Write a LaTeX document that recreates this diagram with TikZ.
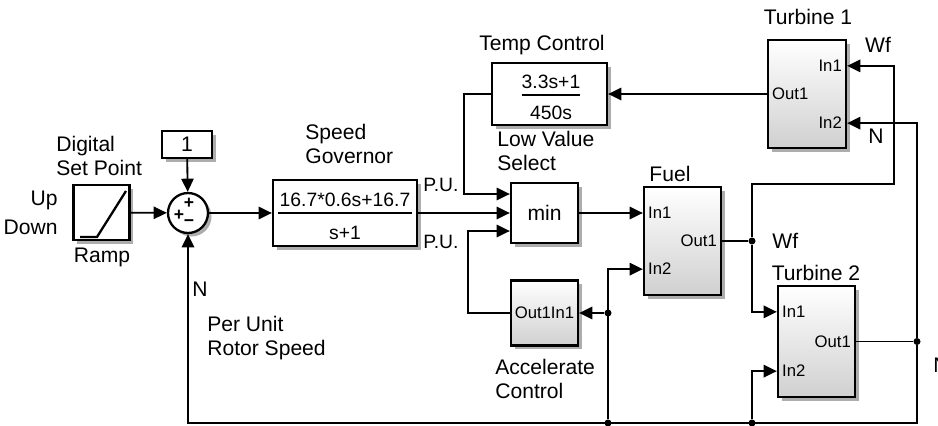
\documentclass[tikz,border=0pt]{standalone}
\usepackage{fontspec}
\setmainfont{Liberation Sans}
\usetikzlibrary{arrows.meta, positioning, shadows, calc}
\definecolor{ombre}{HTML}{8A8A8A}
\definecolor{degrade}{HTML}{D0D0D0}

\tikzset{
  bloc/.style={draw, line width=1.3pt, fill=white, inner sep=0pt,
    drop shadow={shadow xshift=2pt, shadow yshift=-2pt, fill=ombre, opacity=0.7}},
  sousbloc/.style={bloc, top color=white, bottom color=degrade},
  lien/.style={line width=1.05pt},
  fleche/.style={lien, -{Triangle[length=7.5pt, width=7pt]}},
  jonction/.style={circle, fill, inner sep=0pt, minimum size=4pt},
  libelle/.style={font=\fontsize{12}{13.6}\selectfont, align=left, inner sep=0pt},
  port/.style={font=\fontsize{9.5}{11}\selectfont, inner sep=0pt},
  gain/.style={font=\fontsize{11}{13}\selectfont, inner sep=0pt},
  signe/.style={font=\fontsize{10}{10}\bfseries, inner sep=0pt},
}

\begin{document}
\begin{tikzpicture}[x=0.02cm, y=-0.02cm]
    \useasboundingbox (0,0) rectangle (938,426);

    % Blocs
    \node[bloc, minimum width=1.12cm, minimum height=1.1cm] (ramp) at (101.5,212.5) {};
    \draw[line width=1.3pt] (80,237) -- (97,237) -- (126,191);
    \node[bloc, minimum width=1cm, minimum height=0.54cm, libelle] (const) at (187,144.5) {1};
    \node[bloc, circle, minimum size=0.8cm] (sum) at (188,213) {};
    \node[signe] at (189,203) {+};
    \node[signe] at (179,215) {+};
    \node[signe] at (189,223) {\textminus};
    \node[bloc, minimum width=2.88cm, minimum height=1.32cm] (gov) at (345,213) {};
    \node[gain] at (345,200) {16.7*0.6s+16.7};
    \draw[lien] (278,213) -- (412,213);
    \node[gain] at (345,233) {s+1};
    \node[bloc, minimum width=2.3cm, minimum height=1.24cm] (tempc) at (549.5,94) {};
    \node[gain] at (551,82) {3.3s+1};
    \draw[lien] (522,95) -- (580,95);
    \node[gain] at (551,113) {450s};
    \node[bloc, minimum width=1.34cm, minimum height=1.2cm, libelle] (minb) at (544.5,213) {min};
    \node[sousbloc, minimum width=1.34cm, minimum height=1.3cm, port] (accel) at (544.5,313) {Out1In1};
    \node[sousbloc, minimum width=1.54cm, minimum height=2.16cm] (fuel) at (682.5,241) {};
    \node[sousbloc, minimum width=1.56cm, minimum height=2.16cm] (turb1) at (807,94) {};
    \node[sousbloc, minimum width=1.54cm, minimum height=2.22cm] (turb2) at (816.5,341.5) {};

    % Ports
    \coordinate (min-in1) at ($(minb.west)+(0,-19)$);
    \coordinate (min-in3) at ($(minb.west)+(0,18)$);
    \coordinate (fuel-in1) at (fuel.west |- minb.west);
    \coordinate (fuel-in2) at ($(fuel.south west)+(0,-27)$);
    \coordinate (t1-in1) at ($(turb1.north east)+(0,27)$);
    \coordinate (t1-in2) at ($(turb1.south east)+(0,-26)$);
    \coordinate (t2-in1) at ($(turb2.north west)+(0,27)$);
    \coordinate (t2-in2) at ($(turb2.south west)+(0,-27)$);
    \node[port, anchor=west] at ($(fuel-in1)+(5,0)$) {In1};
    \node[port, anchor=west] at ($(fuel-in2)+(5,0)$) {In2};
    \node[port, anchor=east] at ($(fuel.east)+(-5,0)$) {Out1};
    \node[port, anchor=east] at ($(t1-in1)+(-5,0)$) {In1};
    \node[port, anchor=east] at ($(t1-in2)+(-5,0)$) {In2};
    \node[port, anchor=west] at ($(turb1.west)+(5,0)$) {Out1};
    \node[port, anchor=west] at ($(t2-in1)+(5,0)$) {In1};
    \node[port, anchor=west] at ($(t2-in2)+(5,0)$) {In2};
    \node[port, anchor=east] at ($(turb2.east)+(-5,0)$) {Out1};

    % Jonctions
    \node[jonction] (jwf) at (752,241) {};
    \node[jonction] (jn) at (917,341.5) {};
    \node[jonction] (ja) at (608,313) {};
    \node[jonction] (jb1) at (608,423) {};
    \node[jonction] (jb2) at (752,423) {};

    % Liaisons
    \draw[fleche] (ramp) -- (sum);
    \draw[fleche] (const) -- (sum);
    \draw[fleche] (sum) -- (gov);
    \draw[fleche] (gov) -- (minb);
    \draw[fleche] (tempc.west) -- ++(-27,0) |- (min-in1);
    \draw[fleche] (accel.west) -- ++(-42,0) |- (min-in3);
    \draw[fleche] (minb) -- (fuel-in1);
    \draw[lien] (fuel.east) -- (jwf);
    \draw[fleche] (jwf) |- ++(142,-57) |- (t1-in1);
    \draw[fleche] (jwf) |- (t2-in1);
    \draw[fleche] (turb1) -- (tempc);
    \draw[lien] (turb2.east) -- (jn);
    \draw[fleche] (jn) |- (t1-in2);
    \draw[fleche] (jn) -- (jn |- jb1) -| (sum.south);
    \draw[fleche] (jb1) |- (fuel-in2);
    \draw[fleche] (ja) -- (accel.east);
    \draw[fleche] (jb2) |- (t2-in2);

    % Libelles
    \node[libelle, anchor=west] at (56,156) {Digital\\Set Point};
    \node[libelle, anchor=east] at (58,200) {Up};
    \node[libelle, anchor=east] at (58,227) {Down};
    \node[libelle] at (102,257) {Ramp};
    \node[libelle, anchor=west] at (305,144) {Speed\\Governor};
    \node[libelle, anchor=west, font=\fontsize{11}{13}\selectfont] at (423,185) {P.U.};
    \node[libelle, anchor=west, font=\fontsize{11}{13}\selectfont] at (423,242) {P.U.};
    \node[libelle] at (542,45) {Temp Control};
    \node[libelle, anchor=west] at (497,151) {Low Value\\Select};
    \node[libelle] at (670,174) {Fuel};
    \node[libelle] at (808,17) {Turbine 1};
    \node[libelle] at (878,45) {Wf};
    \node[libelle] at (876,136) {N};
    \node[libelle, anchor=west] at (772,241) {Wf};
    \node[libelle] at (816,273) {Turbine 2};
    \node[libelle, anchor=west] at (192,289) {N};
    \node[libelle, anchor=west] at (207,338) {Per Unit\\Rotor Speed};
    \node[libelle, anchor=west] at (495,379) {Accelerate\\Control};
    \node[libelle, anchor=west] at (933,365) {N};
  \end{tikzpicture}
\end{document}
